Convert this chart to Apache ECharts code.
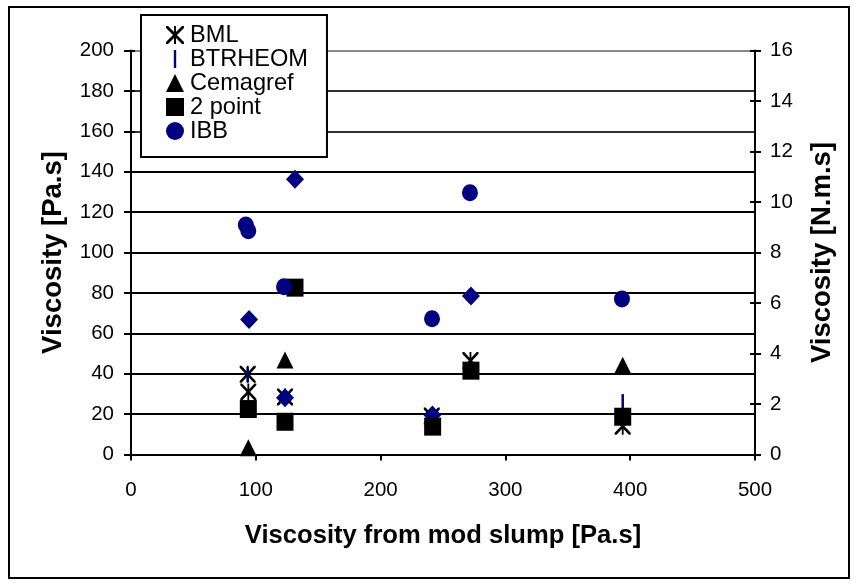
<!DOCTYPE html>
<html><head><meta charset="utf-8">
<script src="https://cdn.jsdelivr.net/npm/echarts@6/dist/echarts.min.js"></script>
<style>html,body{margin:0;padding:0;background:#fff}#c{width:858px;height:584px}</style>
</head><body><div id="c"></div>
<script>
// ---- data (x = viscosity from mod slump [Pa.s]) ----
const xTicks = [0, 100, 200, 300, 400, 500];
const leftTicks = [0, 20, 40, 60, 80, 100, 120, 140, 160, 180, 200];
const rightTicks = [0, 2, 4, 6, 8, 10, 12, 14, 16];

const bml      = [[93.5, 39.7], [94, 31], [123.4, 28.5], [241, 19], [272, 46.5], [394, 14]];
const btrheom  = [[93.5, 39.5], [394, 26.2]];
const nms      = [[94.6, 5.35], [131.4, 10.9], [123.4, 2.25], [241.5, 1.56], [272.4, 6.28]]; // [N.m.s], right axis
const cemagref = [[94, 3.4], [123.4, 46.8], [394, 44.2]];
const twoPoint = [[94, 22.5], [123.4, 16.2], [131.4, 82.6], [241.7, 13.8], [272.4, 41.5], [394, 18.7]];
const ibb      = [[92, 113.6], [94, 110.8], [122.6, 83.1], [241.2, 67.2], [271.6, 129.6], [393.4, 77]];

const FONT = 'Liberation Sans, Arial, sans-serif';
const NAVY = '#000080';
const ASTERISK = 'path://M0,0L1.8,0L16,14.2L16,16L14.2,16L0,1.8Z M16,0L16,1.8L1.8,16L0,16L0,14.2L14.2,0Z M7.1,0L8.9,0L8.9,16L7.1,16Z';
const BAR = 'path://M0,0L2,0L2,15L0,15Z';

const chart = echarts.init(document.getElementById('c'), null, {renderer: 'canvas'});
const gridColors = leftTicks.map(v => v === 200 ? '#888' : (v >= 160 ? '#333' : '#000'));

chart.setOption({
  animation: false,
  backgroundColor: '#fff',
  textStyle: {fontFamily: FONT},
  graphic: [{
    type: 'rect', z: 0, silent: true,
    shape: {x: 9, y: 7, width: 840, height: 571},
    style: {fill: 'none', stroke: '#000', lineWidth: 2}
  }],
  grid: {left: 131, right: 103, top: 50.5, bottom: 129.5, containLabel: false},
  legend: {
    orient: 'vertical', left: 141, top: 15,
    padding: [8, 19, 14, 25],
    itemGap: 0, itemWidth: 18, itemHeight: 18,
    backgroundColor: '#fff', borderColor: '#000', borderWidth: 2, borderRadius: 0,
    textStyle: {fontSize: 23.6, color: '#000', fontFamily: FONT, lineHeight: 24, padding: [0, 0, 0, 1]},
    data: [
      {name: 'BML', icon: ASTERISK},
      {name: 'BTRHEOM', icon: BAR},
      {name: 'Cemagref', icon: 'triangle'},
      {name: '2 point', icon: 'rect'},
      {name: 'IBB', icon: 'circle'}
    ]
  },
  xAxis: {
    type: 'value', min: xTicks[0], max: xTicks[xTicks.length - 1], interval: xTicks[1] - xTicks[0],
    axisLine: {show: true, onZero: false, lineStyle: {color: '#000', width: 2}},
    axisTick: {show: true, length: 6, lineStyle: {color: '#000', width: 2}},
    axisLabel: {margin: 25, fontSize: 20.5, color: '#000', fontFamily: FONT},
    splitLine: {show: false},
    name: 'Viscosity from mod slump [Pa.s]', nameLocation: 'middle', nameGap: 68,
    nameTextStyle: {fontSize: 25.6, fontWeight: 'bold', color: '#000', fontFamily: FONT}
  },
  yAxis: [{
    type: 'value', position: 'left', min: leftTicks[0], max: leftTicks[leftTicks.length - 1], interval: leftTicks[1] - leftTicks[0],
    axisLine: {show: true, lineStyle: {color: '#000', width: 2}},
    axisTick: {show: true, length: 7, lineStyle: {color: '#000', width: 2}},
    axisLabel: {margin: 17, fontSize: 20.5, color: '#000', fontFamily: FONT},
    splitLine: {show: true, lineStyle: {color: gridColors, width: 2}},
    name: 'Viscosity [Pa.s]', nameLocation: 'middle', nameGap: 64, nameRotate: 90,
    nameTextStyle: {fontSize: 27.5, fontWeight: 'bold', color: '#000', fontFamily: FONT}
  }, {
    type: 'value', position: 'right', min: rightTicks[0], max: rightTicks[rightTicks.length - 1], interval: rightTicks[1] - rightTicks[0],
    axisLine: {show: true, lineStyle: {color: '#000', width: 2}},
    axisTick: {show: true, length: 6, lineStyle: {color: '#000', width: 2}},
    axisLabel: {margin: 15, fontSize: 20.5, color: '#000', fontFamily: FONT},
    splitLine: {show: false},
    name: 'Viscosity [N.m.s]', nameLocation: 'middle', nameGap: 53, nameRotate: 90,
    nameTextStyle: {fontSize: 27.5, fontWeight: 'bold', color: '#000', fontFamily: FONT}
  }, {
    type: 'value', position: 'left', min: leftTicks[0], max: leftTicks[leftTicks.length - 1], interval: leftTicks[1] - leftTicks[0],
    axisLine: {show: false}, axisLabel: {show: false}, splitLine: {show: false},
    axisTick: {show: true, inside: true, length: 4, lineStyle: {color: '#000', width: 2}}
  }, {
    type: 'value', position: 'right', min: rightTicks[0], max: rightTicks[rightTicks.length - 1], interval: rightTicks[1] - rightTicks[0],
    axisLine: {show: false}, axisLabel: {show: false}, splitLine: {show: false},
    axisTick: {show: true, inside: true, length: 5, lineStyle: {color: '#000', width: 2}}
  }],
  series: [
    {name: 'BML', type: 'scatter', yAxisIndex: 0, data: bml, symbol: ASTERISK, symbolSize: [16, 17], itemStyle: {color: '#000', opacity: 1}},
    {name: 'BTRHEOM', type: 'scatter', yAxisIndex: 0, data: btrheom, symbol: BAR, symbolSize: [2.5, 15], itemStyle: {color: NAVY, opacity: 1}},
    {name: 'BTRHEOM [N.m.s]', type: 'scatter', yAxisIndex: 1, data: nms, symbol: 'diamond', symbolSize: [18, 19], itemStyle: {color: NAVY, opacity: 1}},
    {name: 'Cemagref', type: 'scatter', yAxisIndex: 0, data: cemagref, symbol: 'triangle', symbolSize: [17, 17], itemStyle: {color: '#000', opacity: 1}},
    {name: '2 point', type: 'scatter', yAxisIndex: 0, data: twoPoint, symbol: 'rect', symbolSize: [17, 18], itemStyle: {color: '#000', opacity: 1}},
    {name: 'IBB', type: 'scatter', yAxisIndex: 0, data: ibb, symbol: 'circle', symbolSize: [16, 17], itemStyle: {color: NAVY, opacity: 1}}
  ]
});
</script>
</body></html>
